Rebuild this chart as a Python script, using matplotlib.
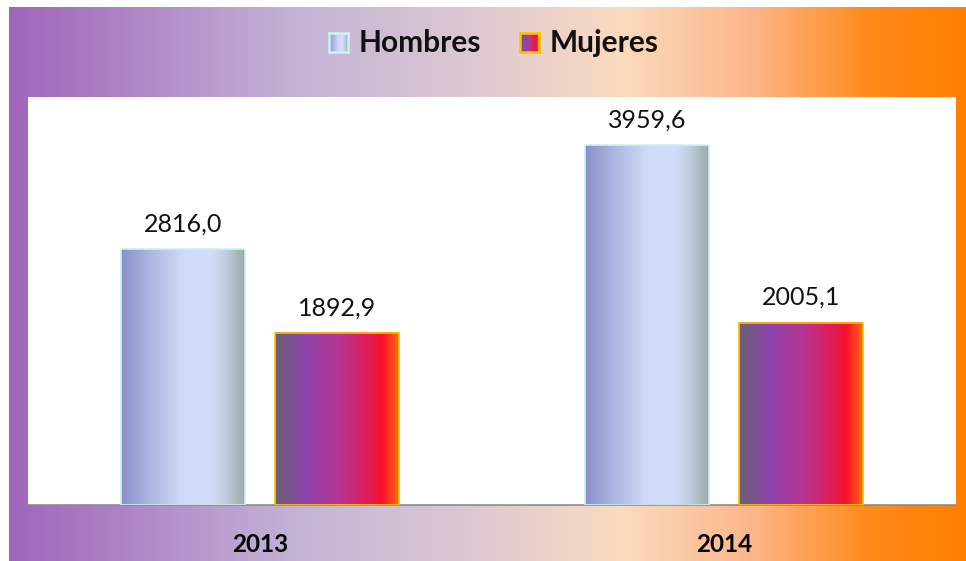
import numpy as np
import matplotlib.pyplot as plt
from matplotlib.colors import LinearSegmentedColormap

# chart data
years = ['2013', '2014']
hombres = [2816.0, 3959.6]
mujeres = [1892.9, 2005.1]
series_names = ['Hombres', 'Mujeres']

plt.rcParams['font.family'] = ['Lato', 'DejaVu Sans']

# gradients
bg_cmap = LinearSegmentedColormap.from_list('bg', [
    (0.0, '#a065bb'), (0.3, '#c4b3d6'), (0.48, '#dcc8d2'),
    (0.64, '#fadbbf'), (0.78, '#fdb587'), (0.9, '#ff8a1c'), (1.0, '#ff8000')])
hom_cmap = LinearSegmentedColormap.from_list('hom', [
    (0.0, '#8a8fc8'), (0.25, '#b0b8e4'), (0.5, '#d0daf8'), (0.72, '#d4defc'),
    (0.85, '#c0cce0'), (1.0, '#9aaca4')])
muj_cmap = LinearSegmentedColormap.from_list('muj', [
    (0.0, '#6a5f74'), (0.25, '#8e45ad'), (0.5, '#b43694'), (0.75, '#e01c58'),
    (0.87, '#f8102c'), (1.0, '#ff6a10')])

grad = np.linspace(0, 1, 256).reshape(1, -1)

fig = plt.figure(figsize=(9.66, 5.61), dpi=100)

# gradient background
bg = fig.add_axes([9 / 966, 0, 957 / 966, 554 / 561])
bg.imshow(grad, aspect='auto', cmap=bg_cmap, extent=[0, 1, 0, 1])
bg.set_axis_off()

ax = fig.add_axes([28 / 966, 56 / 561, 928 / 966, 408 / 561])
ax.set_facecolor('white')

x = np.arange(len(years))
w = 0.267
off = 0.166


def gradient_bars(xs, vals, cmap, edge):
    bars = ax.bar(xs, vals, width=w, facecolor='none', edgecolor=edge,
                  linewidth=1.2, zorder=3)
    for b in bars:
        x0, y0 = b.get_x(), b.get_y()
        ax.imshow(grad, aspect='auto', cmap=cmap, zorder=2,
                  extent=[x0, x0 + b.get_width(), y0, y0 + b.get_height()])
    return bars


b1 = gradient_bars(x - off, hombres, hom_cmap, '#c8f4f4')
b2 = gradient_bars(x + off, mujeres, muj_cmap, '#ffc000')

for bars in (b1, b2):
    ax.bar_label(bars, labels=[f'{v:.1f}'.replace('.', ',') for v in bars.datavalues],
                 padding=10, fontsize=18, color='#111111')

ax.set_xlim(-0.5, 1.5)
ax.set_ylim(0, 4490)
ax.set_yticks([])
ax.set_xticks(x)
ax.set_xticklabels(years, fontsize=17.5, fontweight='bold')
ax.tick_params(axis='x', length=0, pad=20)
for s in ('top', 'left', 'right'):
    ax.spines[s].set_visible(False)
ax.spines['bottom'].set_color('#8c8c8c')
ax.spines['bottom'].set_linewidth(1.2)

# legend: gradient squares + labels
for cmap, edge, name, sx in [(hom_cmap, '#c8f4f4', series_names[0], 329),
                             (muj_cmap, '#ffc000', series_names[1], 520)]:
    la = fig.add_axes([sx / 966, (561 - 52) / 561, 19 / 966, 19 / 561])
    la.imshow(grad, aspect='auto', cmap=cmap, extent=[0, 1, 0, 1])
    la.set_xticks([])
    la.set_yticks([])
    for sp in la.spines.values():
        sp.set_color(edge)
        sp.set_linewidth(1.8)
    fig.text((sx + 30) / 966, (561 - 43) / 561, name, fontsize=21.5,
             fontweight='bold', va='center', ha='left', color='#111111')

fig.savefig('out.png', dpi=100)
